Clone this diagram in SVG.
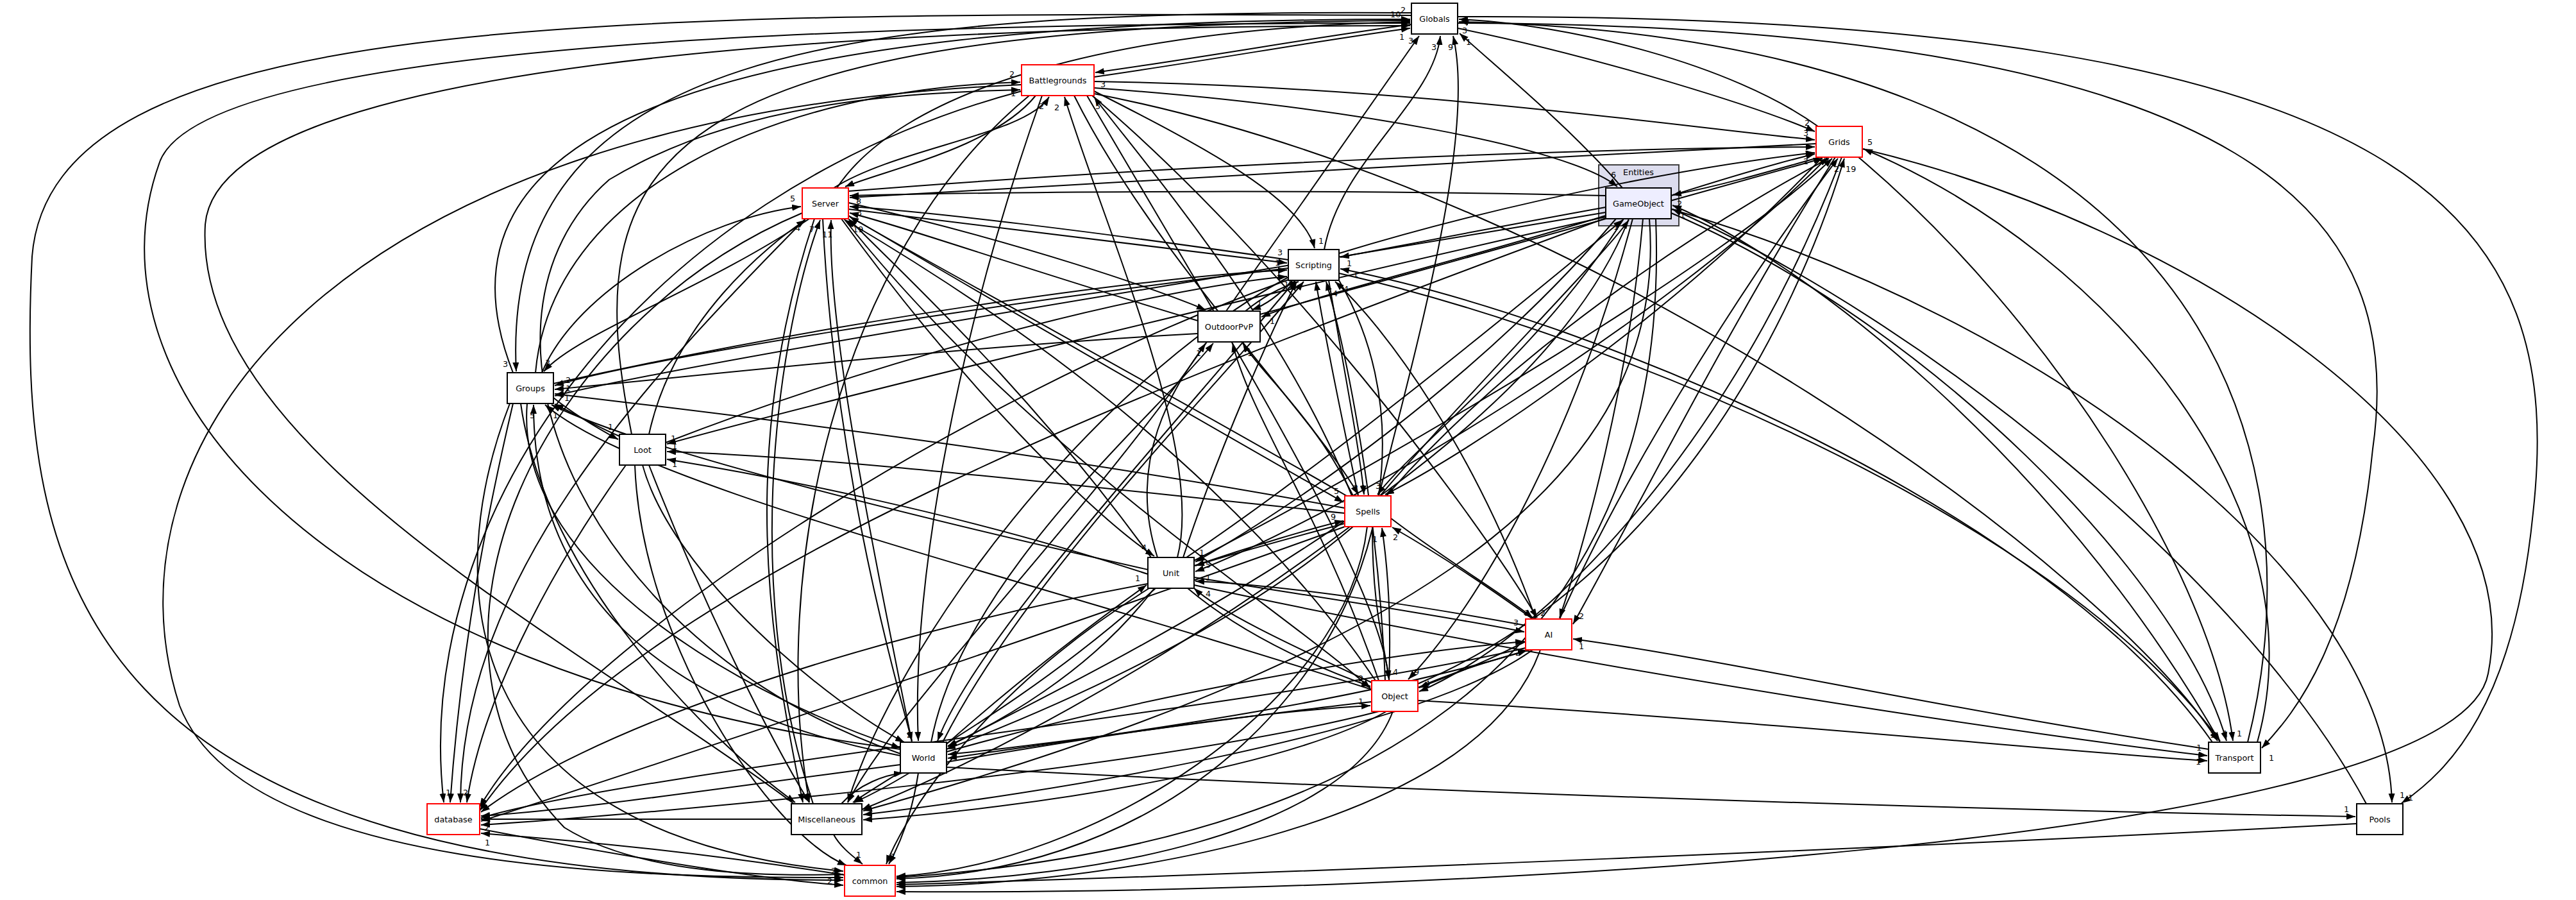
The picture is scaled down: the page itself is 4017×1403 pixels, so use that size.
<svg xmlns="http://www.w3.org/2000/svg" width="4017" height="1403" viewBox="0 0 4017 1403">
<defs>
<marker id="a" markerUnits="userSpaceOnUse" markerWidth="15" markerHeight="11" refX="14" refY="5" orient="auto"><path d="M0,0 L14,5 L0,10 Z" fill="#000"/></marker>
<style>
#edges path{fill:none;stroke:#000;stroke-width:2;marker-end:url(#a)}
text{font-family:"DejaVu Sans","Liberation Sans",sans-serif;font-size:12.8px;fill:#000}
.n rect{fill:#fff;stroke:#000;stroke-width:2}
.r rect{stroke:#f00}
.t{text-anchor:middle}
</style>
</defs>
<rect width="4017" height="1403" fill="#fff"/>
<g id="cluster_Entities"><rect x="2493" y="257" width="125" height="95" fill="#ddddee" stroke="#404040" stroke-width="2"/><text class="t" x="2555" y="273">Entities</text></g>
<g id="edges">
<path d="M1706,120 C1900,92 2050,64 2199,44"/>
<path d="M2201,38 C2050,58 1900,86 1708,113"/>
<path d="M1305,293 C1400,150 1700,45 2199,34"/>
<path d="M800,581 C650,200 1100,30 2199,30"/>
<path d="M985,677 C900,250 1000,38 2199,32"/>
<path d="M1912,485 L2213,56"/>
<path d="M2065,389 C2090,250 2235,160 2246,56"/>
<path d="M2150,773 C2220,500 2300,200 2266,56"/>
<path d="M2530,293 C2450,200 2340,110 2276,52"/>
<path d="M2835,197 C2700,100 2450,38 2275,30"/>
<path d="M3505,1157 C3620,700 3450,60 2275,34"/>
<path d="M1404,1168 C500,1050 120,600 250,250 C330,60 1400,36 2199,36"/>
<path d="M2201,24 C900,18 80,20 50,400 C25,900 120,1372 1315,1372"/>
<path d="M2273,44 C2500,90 2750,170 2830,205"/>
<path d="M2273,26 C3800,20 4000,350 3950,800 C3920,1100 3820,1200 3745,1252"/>
<path d="M2273,36 C3550,40 3750,350 3700,700 C3670,1000 3580,1110 3527,1166"/>
<path d="M2201,20 C1300,14 780,80 805,579"/>
<path d="M835,581 C860,300 1200,140 1591,128"/>
<path d="M1404,1175 C900,1000 700,500 950,280 C1150,160 1400,145 1591,140"/>
<path d="M1300,293 C1400,230 1600,210 1636,151"/>
<path d="M2108,773 C2000,500 1780,250 1706,151"/>
<path d="M1836,869 C1880,700 1720,350 1660,151"/>
<path d="M1706,127 C2200,135 2600,195 2830,218"/>
<path d="M1706,137 C2100,165 2450,230 2522,291"/>
<path d="M1615,149 C1550,230 1380,265 1318,291"/>
<path d="M1675,149 C1800,400 2050,650 2118,771"/>
<path d="M1625,149 C1500,500 1420,900 1432,1155"/>
<path d="M1695,149 C1900,500 2150,900 2166,1059"/>
<path d="M1703,149 C2000,400 2300,800 2397,963"/>
<path d="M1706,146 C2500,300 3300,900 3458,1155"/>
<path d="M1593,142 C1000,300 640,800 692,1251"/>
<path d="M1593,132 C500,180 150,700 280,1100 C380,1360 1000,1368 1315,1368"/>
<path d="M1605,149 C1300,400 1200,900 1262,1251"/>
<path d="M1706,142 C1880,230 2030,310 2050,387"/>
<path d="M845,581 C900,450 1100,340 1249,322"/>
<path d="M1012,677 C1050,500 1200,380 1256,343"/>
<path d="M1422,1157 C1350,800 1290,500 1296,343"/>
<path d="M1268,1253 C1150,900 1220,500 1279,343"/>
<path d="M1795,869 C1600,600 1400,420 1323,341"/>
<path d="M2009,405 C1700,360 1450,330 1325,322"/>
<path d="M1868,500 C1600,420 1400,350 1325,332"/>
<path d="M2100,773 C1800,600 1450,410 1325,338"/>
<path d="M2145,1061 C1900,700 1500,450 1318,343"/>
<path d="M2504,305 C2100,295 1600,298 1325,305"/>
<path d="M1323,298 C1800,260 2400,232 2830,229"/>
<path d="M1323,326 C1600,360 1850,392 2007,410"/>
<path d="M1262,341 C1100,450 900,520 848,579"/>
<path d="M1323,336 C1600,500 1950,700 2095,783"/>
<path d="M1283,341 C1300,700 1380,1000 1422,1155"/>
<path d="M1316,341 C1600,700 2000,950 2137,1073"/>
<path d="M1312,341 C1500,600 1700,800 1800,867"/>
<path d="M1256,341 C1000,600 720,900 718,1251"/>
<path d="M1251,332 C850,500 600,1000 880,1290 C1000,1365 1200,1366 1315,1363"/>
<path d="M1270,341 C1150,700 1200,1000 1252,1251"/>
<path d="M1323,316 C1600,380 1800,450 1880,483"/>
<path d="M863,598 C1300,500 1800,430 2007,421"/>
<path d="M1038,690 C1400,550 1800,450 2007,431"/>
<path d="M1845,869 C1900,700 1990,500 2022,439"/>
<path d="M2504,323 C2300,360 2150,390 2090,401"/>
<path d="M3450,1157 C3200,800 2500,500 2090,419"/>
<path d="M2088,426 C2500,520 3200,800 3462,1155"/>
<path d="M2395,965 C2300,700 2160,510 2082,439"/>
<path d="M2160,1061 C2150,800 2100,550 2068,439"/>
<path d="M2088,395 C2400,300 2700,252 2830,238"/>
<path d="M2015,437 C1995,460 1975,475 1952,483"/>
<path d="M1942,485 C1970,462 2000,447 2025,439"/>
<path d="M2072,437 C2100,600 2120,700 2127,771"/>
<path d="M2118,773 C2092,650 2062,500 2052,439"/>
<path d="M2020,437 C1800,700 1520,1000 1462,1155"/>
<path d="M1470,1157 C1600,900 1900,600 2033,439"/>
<path d="M2009,432 C1700,600 1400,1000 1322,1251"/>
<path d="M2009,436 C1500,620 900,1000 748,1258"/>
<path d="M2009,418 C1500,480 1000,560 865,601"/>
<path d="M2088,437 C2300,800 2000,1350 1398,1370"/>
<path d="M1868,520 C1500,540 1100,585 865,607"/>
<path d="M1965,490 C2300,400 2700,285 2842,247"/>
<path d="M1882,533 C1700,800 1400,1100 1322,1251"/>
<path d="M1452,1157 C1500,900 1800,650 1892,535"/>
<path d="M2110,773 C2050,650 1965,580 1938,535"/>
<path d="M2150,1061 C2060,800 1950,650 1922,535"/>
<path d="M1805,869 C1750,700 1850,580 1880,535"/>
<path d="M863,620 C900,650 940,672 964,685"/>
<path d="M966,680 C920,660 890,642 865,630"/>
<path d="M822,629 C800,900 1200,1100 1404,1166"/>
<path d="M1404,1178 C1000,1100 832,900 832,631"/>
<path d="M800,629 C760,800 720,1000 702,1251"/>
<path d="M795,629 C690,900 700,1300 1315,1358"/>
<path d="M812,629 C850,900 1100,1150 1240,1251"/>
<path d="M2097,792 C1600,700 1100,642 865,614"/>
<path d="M1790,888 C1400,800 1000,700 860,631"/>
<path d="M2139,1075 C1600,900 1000,760 850,631"/>
<path d="M1002,725 C1050,900 1300,1100 1410,1157"/>
<path d="M976,725 C850,900 750,1100 728,1251"/>
<path d="M990,725 C1000,1000 1200,1300 1320,1349"/>
<path d="M1012,725 C1100,950 1200,1150 1262,1251"/>
<path d="M2097,800 C1700,760 1300,712 1040,704"/>
<path d="M1790,895 C1500,800 1200,742 1040,716"/>
<path d="M1862,882 C1950,852 2050,822 2095,812"/>
<path d="M2097,816 C2000,842 1900,870 1864,882"/>
<path d="M2162,773 C2400,500 2750,300 2852,247"/>
<path d="M2842,245 C2600,500 2300,700 2160,771"/>
<path d="M2532,341 C2400,550 2200,700 2148,771"/>
<path d="M2152,773 C2300,600 2500,400 2540,343"/>
<path d="M2390,965 C2300,900 2220,850 2171,822"/>
<path d="M2169,808 C2250,870 2350,930 2390,963"/>
<path d="M2166,1061 C2170,950 2162,870 2155,823"/>
<path d="M2140,821 C2140,950 2158,1000 2166,1059"/>
<path d="M2110,821 C1900,1000 1600,1120 1476,1168"/>
<path d="M2097,821 C1600,1000 1000,1200 750,1280"/>
<path d="M2105,821 C1800,1050 1500,1200 1344,1262"/>
<path d="M2132,821 C2100,1100 1700,1350 1398,1366"/>
<path d="M1862,874 C2200,700 2700,400 2857,247"/>
<path d="M2850,245 C2600,500 2100,800 1864,891"/>
<path d="M1862,900 C2050,930 2250,960 2377,985"/>
<path d="M2379,975 C2200,942 2000,912 1864,906"/>
<path d="M1852,917 C1950,1000 2080,1050 2137,1070"/>
<path d="M2139,1064 C2000,1000 1900,952 1862,917"/>
<path d="M1800,917 C1700,1050 1550,1130 1478,1163"/>
<path d="M1476,1160 C1600,1050 1720,960 1788,912"/>
<path d="M1862,912 C2500,1050 3200,1150 3442,1178"/>
<path d="M1790,910 C1300,1000 900,1150 750,1266"/>
<path d="M1802,917 C1600,1100 1400,1200 1330,1251"/>
<path d="M1792,917 C1500,1100 1400,1300 1382,1347"/>
<path d="M2520,341 C2300,600 2000,800 1864,876"/>
<path d="M2862,245 C2700,500 2550,800 2453,973"/>
<path d="M2432,965 C2550,700 2750,400 2866,247"/>
<path d="M3444,1168 C3000,1100 2700,1030 2453,996"/>
<path d="M2211,1072 C2280,1042 2340,1026 2381,1014"/>
<path d="M2379,1000 C2300,1040 2250,1057 2213,1072"/>
<path d="M2385,1013 C2100,1100 1700,1150 1478,1182"/>
<path d="M1476,1172 C1800,1080 2150,1020 2377,1000"/>
<path d="M2379,1010 C2000,1100 1000,1200 750,1275"/>
<path d="M2390,1013 C2200,1150 1600,1240 1346,1270"/>
<path d="M2402,1013 C2300,1300 1700,1380 1398,1382"/>
<path d="M2562,341 C2540,600 2470,850 2432,963"/>
<path d="M2872,245 C2700,700 2400,1000 2213,1078"/>
<path d="M2211,1066 C2600,900 2800,500 2876,247"/>
<path d="M2211,1092 C2700,1120 3200,1170 3442,1186"/>
<path d="M2139,1094 C1900,1120 1650,1160 1478,1176"/>
<path d="M1476,1188 C1700,1150 1950,1110 2137,1100"/>
<path d="M2150,1109 C1800,1200 1000,1270 750,1286"/>
<path d="M2162,1109 C2000,1200 1600,1260 1346,1278"/>
<path d="M2172,1109 C2100,1300 1700,1370 1398,1376"/>
<path d="M2546,341 C2450,700 2300,950 2196,1059"/>
<path d="M1404,1192 C1100,1232 900,1262 750,1272"/>
<path d="M1418,1205 C1380,1228 1352,1242 1332,1251"/>
<path d="M1312,1253 C1340,1222 1380,1208 1408,1205"/>
<path d="M1432,1205 C1422,1270 1402,1318 1386,1347"/>
<path d="M1476,1196 C2300,1240 3200,1265 3673,1273"/>
<path d="M3520,1157 C3620,800 3300,400 2906,232"/>
<path d="M2898,245 C3200,500 3450,900 3482,1155"/>
<path d="M2606,332 C3000,500 3400,900 3472,1155"/>
<path d="M3462,1157 C3200,700 2800,400 2608,320"/>
<path d="M3675,1284 C3000,1320 2000,1362 1398,1379"/>
<path d="M3690,1253 C3500,900 3000,500 2608,326"/>
<path d="M2606,326 C3200,500 3720,900 3730,1251"/>
<path d="M748,1292 C1000,1340 1200,1372 1315,1380"/>
<path d="M1317,1364 C1100,1330 900,1310 750,1299"/>
<path d="M1300,1301 C1310,1320 1330,1335 1345,1347"/>
<path d="M1234,1277 C1000,1276 850,1276 750,1277"/>
<path d="M2904,232 C3400,350 3950,700 3880,1050 C3830,1320 2200,1395 1398,1390"/>
<path d="M2832,224 C2300,250 1700,288 1325,308"/>
<path d="M2606,305 C2700,275 2780,252 2830,240"/>
<path d="M2838,245 C2750,270 2680,290 2608,304"/>
<path d="M2504,331 C1800,450 1100,560 865,617"/>
<path d="M2504,338 C2000,450 1300,620 1040,692"/>
<path d="M2504,336 C2300,400 2050,460 1967,494"/>
<path d="M2572,341 C2600,700 2300,1000 1346,1264"/>
<path d="M2504,340 C1800,600 1000,900 748,1264"/>
<path d="M2582,341 C2600,800 2400,1300 1398,1368"/>
<path d="M2540,341 C2400,700 1800,1000 1478,1164"/>
<path d="M1850,869 C2100,700 2400,450 2530,343"/>
<path d="M1238,1253 C900,1000 300,700 320,350 C340,100 1300,40 2199,40"/>
<g id="edge_labels">
<text x="2182" y="62">1</text><text x="1716" y="136">3</text><text x="2168" y="27">10</text><text x="2184" y="20">2</text>
<text x="2196" y="68">3</text><text x="2232" y="78">3</text><text x="2258" y="78">9</text><text x="2286" y="70">1</text>
<text x="2284" y="40">7</text><text x="2280" y="52">3</text><text x="1296" y="1362">2</text><text x="2814" y="196">2</text>
<text x="3755" y="1248">1</text><text x="3538" y="1186">1</text><text x="784" y="572">3</text><text x="1574" y="120">2</text>
<text x="1576" y="150">1</text><text x="1620" y="170">2</text><text x="1708" y="170">5</text><text x="1644" y="172">2</text>
<text x="2812" y="212">3</text><text x="2512" y="277">6</text><text x="2122" y="765">1</text><text x="1414" y="1150">2</text>
<text x="2172" y="1052">4</text><text x="2377" y="960">3</text><text x="3446" y="1150">1</text><text x="695" y="1240">1</text>
<text x="2056" y="380">1</text><text x="1232" y="314">5</text><text x="1240" y="360">4</text><text x="1282" y="370">11</text>
<text x="1262" y="362">7</text><text x="1330" y="362">19</text><text x="1335" y="318">8</text><text x="1336" y="336">3</text>
<text x="2814" y="244">2</text><text x="1992" y="398">3</text><text x="850" y="570">3</text><text x="2080" y="770">5</text>
<text x="2118" y="1062">2</text><text x="1780" y="858">4</text><text x="722" y="1240">2</text><text x="1988" y="414">1</text>
<text x="1990" y="430">1</text><text x="2002" y="448">1</text><text x="2100" y="415">1</text><text x="2110" y="432">1</text>
<text x="3466" y="1148">1</text><text x="2095" y="455">4</text><text x="2078" y="462">4</text><text x="2812" y="256">2</text>
<text x="1960" y="478">1</text><text x="2110" y="765">2</text><text x="882" y="597">2</text><text x="882" y="610">1</text>
<text x="1945" y="555">1</text><text x="1865" y="555">1</text><text x="948" y="670">1</text><text x="880" y="625">1</text>
<text x="826" y="652">5</text><text x="862" y="652">1</text><text x="1048" y="700">1</text><text x="1048" y="728">1</text>
<text x="2075" y="810">9</text><text x="1880" y="885">5</text><text x="2145" y="762">3</text><text x="2516" y="358">1</text>
<text x="2172" y="842">2</text><text x="2402" y="960">2</text><text x="2140" y="845">1</text><text x="1880" y="905">1</text>
<text x="2360" y="975">3</text><text x="1880" y="930">4</text><text x="1770" y="906">1</text><text x="3425" y="1170">1</text>
<text x="1870" y="866">1</text><text x="2462" y="965">2</text><text x="2860" y="268">2</text><text x="2462" y="1012">1</text>
<text x="2363" y="1022">2</text><text x="2222" y="1070">4</text><text x="2878" y="268">19</text><text x="3424" y="1192">1</text>
<text x="2118" y="1098">1</text><text x="2205" y="1052">9</text><text x="1388" y="1340">7</text><text x="3655" y="1266">1</text>
<text x="2912" y="226">5</text><text x="3488" y="1148">1</text><text x="2620" y="340">1</text><text x="3742" y="1244">1</text>
<text x="1290" y="1378">2</text><text x="756" y="1318">1</text><text x="1335" y="1337">1</text><text x="755" y="1295">2</text>
<text x="2615" y="322">2</text><text x="1046" y="688">1</text><text x="1980" y="505">1</text><text x="2835" y="254">10</text>
</g>
</g>
<g id="node_Globals" class="n"><rect x="2201" y="5" width="72" height="48"/><text class="t" x="2237" y="34">Globals</text></g>
<g id="node_Battlegrounds" class="n r"><rect x="1593" y="101" width="113" height="48"/><text class="t" x="1649.5" y="130">Battlegrounds</text></g>
<g id="node_Grids" class="n r"><rect x="2832" y="197" width="72" height="48"/><text class="t" x="2868" y="226">Grids</text></g>
<g id="node_GameObject" class="n"><rect x="2504" y="293" width="102" height="48" style="fill:#eeeeff"/><text class="t" x="2555" y="322">GameObject</text></g>
<g id="node_Server" class="n r"><rect x="1251" y="293" width="72" height="48"/><text class="t" x="1287" y="322">Server</text></g>
<g id="node_Scripting" class="n"><rect x="2009" y="389" width="79" height="48"/><text class="t" x="2048.5" y="418">Scripting</text></g>
<g id="node_OutdoorPvP" class="n"><rect x="1868" y="485" width="97" height="48"/><text class="t" x="1916.5" y="514">OutdoorPvP</text></g>
<g id="node_Groups" class="n"><rect x="791" y="581" width="72" height="48"/><text class="t" x="827" y="610">Groups</text></g>
<g id="node_Loot" class="n"><rect x="966" y="677" width="72" height="48"/><text class="t" x="1002" y="706">Loot</text></g>
<g id="node_Spells" class="n r"><rect x="2097" y="773" width="72" height="48"/><text class="t" x="2133" y="802">Spells</text></g>
<g id="node_Unit" class="n"><rect x="1790" y="869" width="72" height="48"/><text class="t" x="1826" y="898">Unit</text></g>
<g id="node_AI" class="n r"><rect x="2379" y="965" width="72" height="48"/><text class="t" x="2415" y="994">AI</text></g>
<g id="node_Object" class="n r"><rect x="2139" y="1061" width="72" height="48"/><text class="t" x="2175" y="1090">Object</text></g>
<g id="node_World" class="n"><rect x="1404" y="1157" width="72" height="48"/><text class="t" x="1440" y="1186">World</text></g>
<g id="node_Transport" class="n"><rect x="3444" y="1157" width="81" height="48"/><text class="t" x="3484.5" y="1186">Transport</text></g>
<g id="node_database" class="n r"><rect x="666" y="1253" width="82" height="48"/><text class="t" x="707" y="1282">database</text></g>
<g id="node_Miscellaneous" class="n"><rect x="1234" y="1253" width="110" height="48"/><text class="t" x="1289" y="1282">Miscellaneous</text></g>
<g id="node_Pools" class="n"><rect x="3675" y="1253" width="72" height="48"/><text class="t" x="3711" y="1282">Pools</text></g>
<g id="node_common" class="n r"><rect x="1317" y="1349" width="79" height="48"/><text class="t" x="1356.5" y="1378">common</text></g>
</svg>
